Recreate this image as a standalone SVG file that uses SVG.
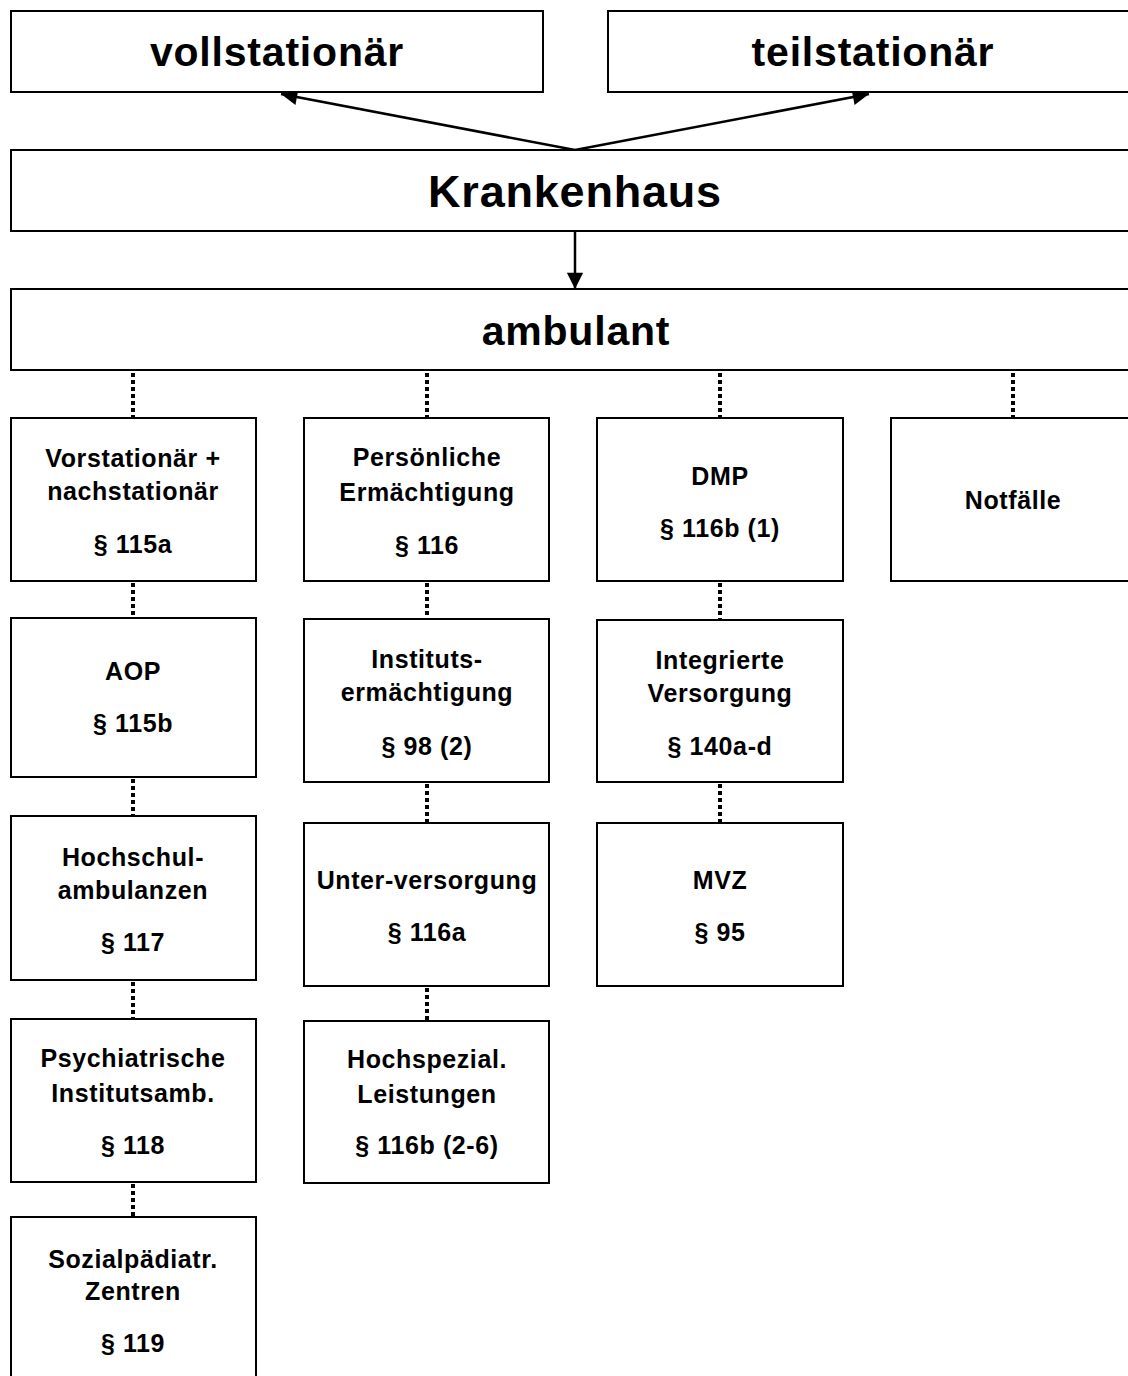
<svg xmlns="http://www.w3.org/2000/svg" width="1128" height="1376" viewBox="0 0 1128 1376">
<style>
  rect.box { fill: #ffffff; stroke: #000000; stroke-width: 2; }
  text { font-family: "Liberation Sans", Arial, sans-serif; font-weight: bold; fill: #000000; text-anchor: middle; }
  .big { font-size: 41px; letter-spacing: 0.8px; }
  .huge { font-size: 45px; letter-spacing: 0.8px; }
  .n { font-size: 25px; letter-spacing: 0.6px; }
  .arrow { stroke: #000; stroke-width: 2.5; fill: none; }
  .dot { stroke: #000; stroke-width: 4; stroke-dasharray: 4 3; fill: none; }
</style>
<defs>
  <marker id="ah" viewBox="0 0 10 10" refX="10" refY="5" markerWidth="8" markerHeight="6.5" markerUnits="strokeWidth" orient="auto">
    <path d="M0,0 L10,5 L0,10 z" fill="#000"/>
  </marker>
</defs>
<rect width="1128" height="1376" fill="#ffffff"/>

<g id="connectors">
  <line class="arrow" x1="575" y1="150" x2="281" y2="94" marker-end="url(#ah)"/>
  <line class="arrow" x1="575" y1="150" x2="869" y2="94" marker-end="url(#ah)"/>
  <line class="arrow" x1="575" y1="231" x2="575" y2="289" marker-end="url(#ah)"/>
  <line class="dot" x1="133" y1="373" x2="133" y2="418"/>
  <line class="dot" x1="427" y1="373" x2="427" y2="418"/>
  <line class="dot" x1="720" y1="373" x2="720" y2="418"/>
  <line class="dot" x1="1013" y1="373" x2="1013" y2="418"/>
  <line class="dot" x1="133" y1="583" x2="133" y2="618"/>
  <line class="dot" x1="133" y1="779" x2="133" y2="816"/>
  <line class="dot" x1="133" y1="982" x2="133" y2="1019"/>
  <line class="dot" x1="133" y1="1184" x2="133" y2="1217"/>
  <line class="dot" x1="427" y1="583" x2="427" y2="619"/>
  <line class="dot" x1="427" y1="784" x2="427" y2="823"/>
  <line class="dot" x1="427" y1="988" x2="427" y2="1021"/>
  <line class="dot" x1="720" y1="583" x2="720" y2="620"/>
  <line class="dot" x1="720" y1="784" x2="720" y2="823"/>
</g>

<g id="vollstationaer">
  <rect class="box" x="11" y="11" width="532" height="81"/>
  <text class="big" x="277" y="66">vollstationär</text>
</g>
<g id="teilstationaer">
  <rect class="box" x="608" y="11" width="540" height="81"/>
  <text class="big" x="873" y="66">teilstationär</text>
</g>
<g id="krankenhaus">
  <rect class="box" x="11" y="150" width="1137" height="81"/>
  <text class="huge" x="575" y="207">Krankenhaus</text>
</g>
<g id="ambulant">
  <rect class="box" x="11" y="289" width="1137" height="81"/>
  <text class="big" x="576" y="345">ambulant</text>
</g>

<g id="vorstationaer">
  <rect class="box" x="11" y="418" width="245" height="163"/>
  <text class="n" x="133" y="467">Vorstationär +</text>
  <text class="n" x="133" y="500">nachstationär</text>
  <text class="n" x="133" y="553">§ 115a</text>
</g>
<g id="aop">
  <rect class="box" x="11" y="618" width="245" height="159"/>
  <text class="n" x="133" y="680">AOP</text>
  <text class="n" x="133" y="732">§ 115b</text>
</g>
<g id="hochschul">
  <rect class="box" x="11" y="816" width="245" height="164"/>
  <text class="n" x="133" y="866">Hochschul-</text>
  <text class="n" x="133" y="899">ambulanzen</text>
  <text class="n" x="133" y="951">§ 117</text>
</g>
<g id="psychiatrische">
  <rect class="box" x="11" y="1019" width="245" height="163"/>
  <text class="n" x="133" y="1067">Psychiatrische</text>
  <text class="n" x="133" y="1102">Institutsamb.</text>
  <text class="n" x="133" y="1154">§ 118</text>
</g>
<g id="sozialpaediatr">
  <rect class="box" x="11" y="1217" width="245" height="170"/>
  <text class="n" x="133" y="1268">Sozialpädiatr.</text>
  <text class="n" x="133" y="1300">Zentren</text>
  <text class="n" x="133" y="1352">§ 119</text>
</g>

<g id="persoenliche">
  <rect class="box" x="304" y="418" width="245" height="163"/>
  <text class="n" x="427" y="466">Persönliche</text>
  <text class="n" x="427" y="501">Ermächtigung</text>
  <text class="n" x="427" y="554">§ 116</text>
</g>
<g id="instituts">
  <rect class="box" x="304" y="619" width="245" height="163"/>
  <text class="n" x="427" y="668">Instituts-</text>
  <text class="n" x="427" y="701">ermächtigung</text>
  <text class="n" x="427" y="755">§ 98 (2)</text>
</g>
<g id="unterversorgung">
  <rect class="box" x="304" y="823" width="245" height="163"/>
  <text class="n" x="427" y="889">Unter-versorgung</text>
  <text class="n" x="427" y="941">§ 116a</text>
</g>
<g id="hochspezial">
  <rect class="box" x="304" y="1021" width="245" height="162"/>
  <text class="n" x="427" y="1068">Hochspezial.</text>
  <text class="n" x="427" y="1103">Leistungen</text>
  <text class="n" x="427" y="1154">§ 116b (2-6)</text>
</g>

<g id="dmp">
  <rect class="box" x="597" y="418" width="246" height="163"/>
  <text class="n" x="720" y="485">DMP</text>
  <text class="n" x="720" y="537">§ 116b (1)</text>
</g>
<g id="integrierte">
  <rect class="box" x="597" y="620" width="246" height="162"/>
  <text class="n" x="720" y="669">Integrierte</text>
  <text class="n" x="720" y="702">Versorgung</text>
  <text class="n" x="720" y="755">§ 140a-d</text>
</g>
<g id="mvz">
  <rect class="box" x="597" y="823" width="246" height="163"/>
  <text class="n" x="720" y="889">MVZ</text>
  <text class="n" x="720" y="941">§ 95</text>
</g>

<g id="notfaelle">
  <rect class="box" x="891" y="418" width="250" height="163"/>
  <text class="n" x="1013" y="509">Notfälle</text>
</g>
</svg>
